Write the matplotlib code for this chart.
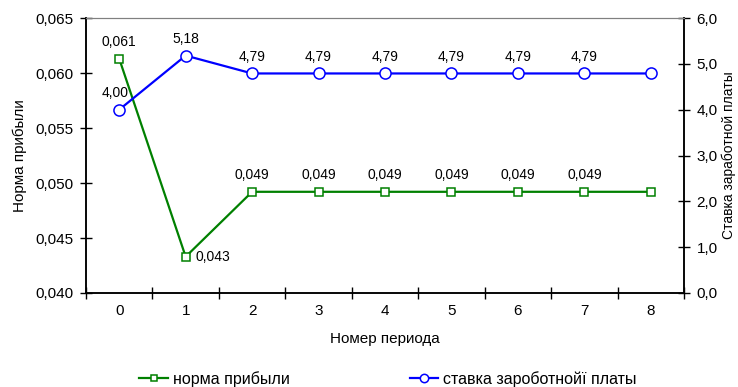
import numpy as np
import matplotlib
matplotlib.use('Agg')
import matplotlib.pyplot as plt
from matplotlib.ticker import FixedLocator, FuncFormatter

plt.rcParams['font.family'] = ['Liberation Sans', 'DejaVu Sans']

periods = [0, 1, 2, 3, 4, 5, 6, 7, 8]
profit_rate = [0.0613, 0.0433, 0.0492, 0.0492, 0.0492, 0.0492, 0.0492, 0.0492, 0.0492]
wage_rate = [4.00, 5.18, 4.79, 4.79, 4.79, 4.79, 4.79, 4.79, 4.79]
profit_labels = ['0,061', '0,043', '0,049', '0,049', '0,049', '0,049', '0,049', '0,049', None]
wage_labels = ['4,00', '5,18', '4,79', '4,79', '4,79', '4,79', '4,79', '4,79', None]

green = '#008000'
blue = '#0000ff'

fig = plt.figure(figsize=(7.38, 3.87), dpi=100)
ax = fig.add_axes([86 / 738, 1 - 293 / 387, 598 / 738, 275 / 387])
ax2 = ax.twinx()

x = np.arange(len(periods))
ax.plot(x, profit_rate, color=green, lw=1.6, marker='s', ms=6,
        mfc='white', mec=green, mew=1.1, zorder=3, label='норма прибыли')
ax2.plot(x, wage_rate, color=blue, lw=1.6, marker='o', ms=8,
         mfc='white', mec=blue, mew=1.1, zorder=3, label='ставка зароботнойї платы')

for i, lab in enumerate(profit_labels):
    if lab is None:
        continue
    if i == 1:
        ax.annotate(lab, (x[i], profit_rate[i]), xytext=(7, 0), textcoords='offset points',
                    ha='left', va='center', fontsize=10)
    else:
        ax.annotate(lab, (x[i], profit_rate[i]), xytext=(0, 7), textcoords='offset points',
                    ha='center', va='bottom', fontsize=10)

for i, lab in enumerate(wage_labels):
    if lab is None:
        continue
    if i == 0:
        ax2.annotate(lab, (x[i], wage_rate[i]), xytext=(-3, 7), textcoords='offset points',
                     ha='center', va='bottom', fontsize=10)
    else:
        ax2.annotate(lab, (x[i], wage_rate[i]), xytext=(0, 7), textcoords='offset points',
                     ha='center', va='bottom', fontsize=10)

ax.set_xlim(-0.5, len(periods) - 0.5)
ax.set_ylim(0.040, 0.065)
ax2.set_ylim(0, 6)

ax.set_yticks(np.arange(0.040, 0.0651, 0.005))
ax.yaxis.set_major_formatter(FuncFormatter(lambda v, p: f'{v:.3f}'.replace('.', ',')))
ax2.set_yticks(np.arange(0, 6.01, 1))
ax2.yaxis.set_major_formatter(FuncFormatter(lambda v, p: f'{v:.1f}'.replace('.', ',')))

# category labels in the middle, ticks on the boundaries
ax.set_xticks(x)
ax.set_xticklabels([str(p) for p in periods])
ax.tick_params(axis='x', which='major', length=0, pad=8, labelsize=11)
ax.xaxis.set_minor_locator(FixedLocator(np.arange(-0.5, len(periods), 1)))
ax.tick_params(axis='x', which='minor', direction='inout', length=8, width=1)
ax.tick_params(axis='y', direction='inout', length=8, width=1, labelsize=11, pad=5)
ax2.tick_params(axis='y', direction='inout', length=8, width=1, labelsize=11, pad=5)

for a in (ax, ax2):
    a.spines['top'].set_color('#808080')
    for s in ('left', 'right', 'bottom'):
        a.spines[s].set_color('black')
        a.spines[s].set_linewidth(1.1)

ax.set_xlabel('Номер периода', fontsize=11, labelpad=10)
ax.set_ylabel('Норма прибыли', fontsize=11, labelpad=6)
ax2.set_ylabel('Ставка заработной платы', fontsize=10, labelpad=3)

h1, l1 = ax.get_legend_handles_labels()
h2, l2 = ax2.get_legend_handles_labels()
fig.legend(h1 + h2, l1 + l2, loc='center', bbox_to_anchor=(388 / 738, 1 - 379 / 387),
           ncol=2, frameon=False, fontsize=11.5, handlelength=1.8, handletextpad=0.3,
           columnspacing=7.5, markerscale=0.75)

fig.savefig('out.png', dpi=100)
